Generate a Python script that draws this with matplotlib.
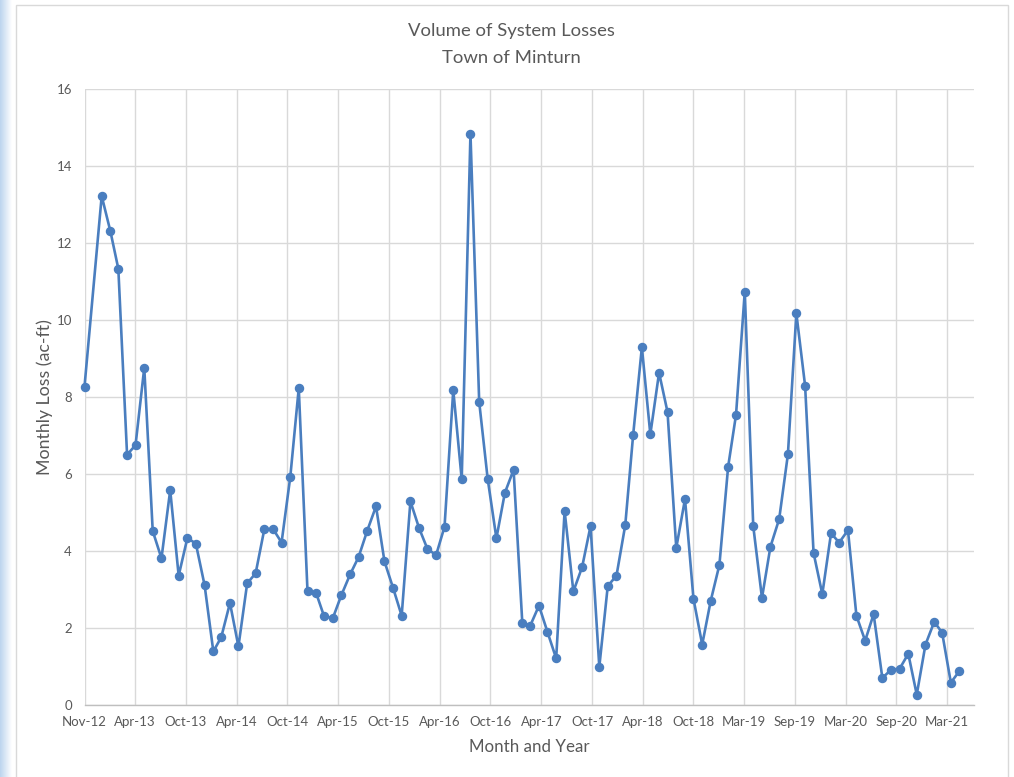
import datetime as dt

import numpy as np
import matplotlib
matplotlib.use("Agg")
import matplotlib.pyplot as plt
import matplotlib.dates as mdates
from matplotlib.patches import Rectangle

# monthly readings: Nov-12, then Jan-13 through May-21 (no Dec-12 reading)
first_month = dt.date(2012, 11, 1)
monthly_start = (2013, 1)
loss = [
    8.27, 13.22, 12.30, 11.33, 6.50, 6.75, 8.76, 4.52, 3.81, 5.58,
    3.36, 4.34, 4.19, 3.11, 1.39, 1.76, 2.65, 1.52, 3.16, 3.42,
    4.57, 4.57, 4.22, 5.93, 8.23, 2.95, 2.90, 2.30, 2.26, 2.85,
    3.39, 3.84, 4.53, 5.16, 3.73, 3.03, 2.32, 5.29, 4.59, 4.06,
    3.89, 4.63, 8.18, 5.86, 14.84, 7.87, 5.88, 4.33, 5.51, 6.11,
    2.12, 2.06, 2.58, 1.90, 1.21, 5.04, 2.95, 3.58, 4.65, 0.99,
    3.09, 3.36, 4.67, 7.01, 9.29, 7.03, 8.63, 7.61, 4.08, 5.35,
    2.76, 1.57, 2.70, 3.64, 6.19, 7.54, 10.74, 4.65, 2.78, 4.11,
    4.83, 6.51, 10.17, 8.29, 3.95, 2.88, 4.46, 4.22, 4.54, 2.32,
    1.67, 2.36, 0.70, 0.92, 0.94, 1.33, 0.27, 1.57, 2.16, 1.88,
    0.58, 0.88,
]

# date axis: a label every 180 days starting Nov 1 2012
tick_step_days = 180
n_ticks = 18
axis_span_days = 3154

title_lines = ["Volume of System Losses", "Town of Minturn"]
y_label = "Monthly Loss (ac-ft)"
x_label = "Month and Year"

dates = [first_month]
y, m = monthly_start
for _ in range(len(loss) - 1):
    dates.append(dt.date(y, m, 1))
    m += 1
    if m > 12:
        y, m = y + 1, 1

tick_dates = [first_month + dt.timedelta(days=tick_step_days * k) for k in range(n_ticks)]

W, H = 1014, 777
plt.rcParams['font.family'] = ['Lato', 'DejaVu Sans']
text_color = '#595959'
grid_color = '#d9d9d9'
line_color = '#4a7ebf'

fig = plt.figure(figsize=(W / 100, H / 100), dpi=100)

# pale blue strip down the left edge
strip = fig.add_axes([0, 0, 12 / W, 1])
grad = np.linspace(0, 1, 64).reshape(1, -1)
strip.imshow(grad, aspect='auto', cmap=matplotlib.colors.LinearSegmentedColormap.from_list(
    'edge', ['#bcd4ee', '#ffffff']), extent=[0, 1, 0, 1])
strip.set_axis_off()

# chart frame
fig.patches.append(Rectangle((15.5 / W, -0.01), (1008 - 15.5) / W, (H - 4.5) / H + 0.01,
                             transform=fig.transFigure, fill=False,
                             edgecolor='#d9d9d9', linewidth=1.0))

left, right, top, bottom = 84.5, 973.7, 89, 705
ax = fig.add_axes([left / W, 1 - bottom / H, (right - left) / W, (bottom - top) / H])

ax.plot(dates, loss, color=line_color, linewidth=1.9, marker='o',
        markersize=5.8, markerfacecolor=line_color, markeredgecolor=line_color,
        zorder=3, clip_on=False)

ax.set_xlim(first_month, first_month + dt.timedelta(days=axis_span_days))
ax.set_ylim(0, 16)
ax.set_yticks(np.arange(0, 17, 2))
ax.set_xticks(tick_dates)
ax.xaxis.set_major_formatter(mdates.DateFormatter('%b-%y'))

ax.grid(True, color=grid_color, linewidth=1.0)
ax.set_axisbelow(True)
for side in ['top', 'right', 'left']:
    ax.spines[side].set_visible(False)
ax.spines['bottom'].set_color('#bfbfbf')
ax.spines['bottom'].set_linewidth(1.0)
ax.tick_params(axis='both', length=0, labelsize=9.5, colors=text_color)
ax.tick_params(axis='x', pad=8)
ax.tick_params(axis='y', pad=9)

fig.text(511 / W, 1 - 31 / H, title_lines[0], ha='center', va='center',
         fontsize=13.3, color=text_color)
fig.text(511 / W, 1 - 58 / H, title_lines[1], ha='center', va='center',
         fontsize=13.3, color=text_color)
fig.text(45 / W, 1 - 397 / H, y_label, ha='center', va='center', rotation=90,
         fontsize=12.8, color=text_color)
fig.text(529 / W, 1 - 747 / H, x_label, ha='center', va='center',
         fontsize=12.2, color=text_color)

fig.savefig('out.png', dpi=100)
